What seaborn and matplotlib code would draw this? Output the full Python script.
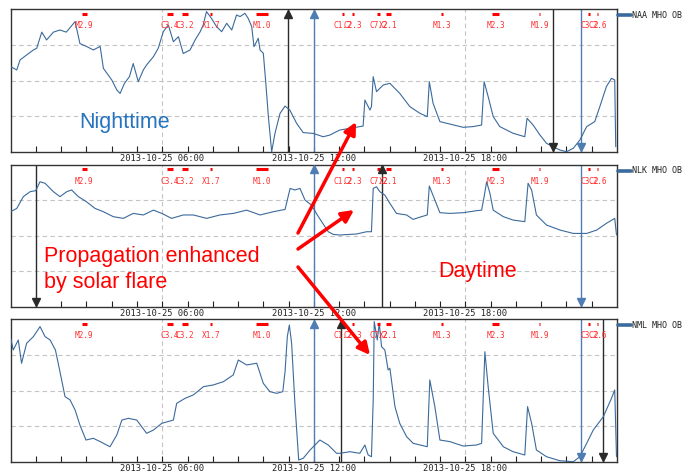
import numpy as np
import pandas as pd
import matplotlib
matplotlib.use("Agg")
import matplotlib.pyplot as plt
import matplotlib.transforms as mtransforms
from matplotlib.patches import FancyArrowPatch
from matplotlib.lines import Line2D
import seaborn as sns

# ---------------- data (hours of 2013-10-25 UT, relative amplitude 0-100) ----------------
naa_hours = [0, 0.24, 0.37, 0.63, 0.9, 1.03, 1.23, 1.42, 1.69, 1.95, 2.2, 2.55, 2.74, 3.0, 3.27, 3.54, 3.67,
             4.0, 4.2, 4.33, 4.5, 4.7, 4.85, 5.05, 5.25, 5.38, 5.65, 5.84, 6.04, 6.24, 6.44, 6.64, 6.83, 7.1,
             7.3, 7.5, 7.62, 7.75, 7.9, 8.15, 8.35, 8.55, 8.75, 8.94, 9.08, 9.27, 9.4, 9.54, 9.63, 9.8, 9.87,
             10.0, 10.1, 10.2, 10.33, 10.46, 10.66, 10.86, 11.05, 11.32, 11.58, 11.98, 12.37, 12.64, 12.9,
             13.03, 13.56, 13.95, 14.02, 14.22, 14.28, 14.35, 14.48, 14.75, 15.01, 15.4, 15.8, 16.2, 16.49,
             16.57, 16.72, 16.99, 17.38, 17.91, 18.3, 18.64, 18.74, 18.9, 19.1, 19.36, 19.89, 20.35, 20.44,
             20.68, 20.95, 21.21, 21.47, 21.74, 22.0, 22.27, 22.53, 22.8, 23.12, 23.32, 23.58, 23.78, 23.91,
             23.95]
naa_values = [59.8, 57.5, 64.5, 68, 71.5, 72.7, 84, 78.5, 84, 85.5, 84, 91.4, 76, 74, 71.5, 74, 58.6,
              50.5, 43.5, 41, 48, 52.8, 62, 49.3, 57.5, 61, 66.8, 72.7, 84.3, 89, 77.3, 80.8, 69, 71.5,
              78.5, 84.3, 89, 98.4, 94.9, 87.9, 84.3, 90.2, 85.5, 96, 94.9, 97.2, 93.7, 87.9, 73.8, 79.7, 71.5,
              69.2, 48, 24.8, 0.2, 13, 27, 32.2, 29.4, 20, 13.6, 13, 10.7, 11.9, 14.3,
              15.4, 17, 18.2, 36.4, 29.4, 31.8, 52.8, 42.3, 47, 48.1, 41.1, 31.8, 27.1, 24.8,
              49.3, 34.1, 21.3, 19.6, 17.3, 17.8, 18.9, 49.3, 38.8, 24.8, 17.8, 13.1, 10.7, 23.6,
              18.9, 11.9, 6.1, 3.7, 1.4, 0.2, 2.6, 8.4, 17.8, 21.3, 31.8, 45.8, 51.6, 50.5,
              3.7]

nlk_hours = [0, 0.24, 0.5, 0.77, 0.99, 1.16, 1.36, 1.69, 1.95, 2.22, 2.41, 2.68, 3.0, 3.34, 3.67, 4.06,
             4.46, 4.85, 5.25, 5.65, 5.98, 6.37, 6.83, 7.23, 7.76, 8.28, 8.81, 9.34, 9.87, 10.4, 10.86,
             11.06, 11.25, 11.45, 11.65, 11.9, 12.18, 12.57, 12.77, 13.03, 13.69, 14.09, 14.28, 14.35,
             14.48, 14.61, 14.81, 15.01, 15.27, 15.67, 15.93, 16.26, 16.49, 16.57, 16.79, 16.99, 17.38,
             17.91, 18.44, 18.64, 18.74, 18.84, 18.97, 19.1, 19.5, 19.89, 20.35, 20.48, 20.62, 20.81,
             21.21, 21.74, 22.27, 22.8, 23.2, 23.58, 23.91, 23.98]
nlk_values = [66.9, 69.2, 77.5, 81, 81.7, 88, 86.9, 81, 77.5, 81, 82.2, 77.5, 73.9, 69.2, 66.9, 63.4,
              62.2, 65.7, 64.6, 68, 65.7, 62.2, 64.6, 64.6, 62.2, 64.6, 65.7, 68, 64.6, 66.9, 68.5,
              83.3, 82.2, 83.3, 75.1, 71.6, 63.4, 52.8, 50.9, 50.5, 51.2, 52.8, 52.8, 83.3,
              84.5, 81, 78.6, 72.8, 65.7, 64.6, 61.5, 63.4, 64.6, 85, 75.1, 66.2, 65.7,
              66.2, 67.6, 68, 77.5, 88, 79.8, 68, 63.4, 61, 59.9, 86.9, 82.2, 64.6,
              57.5, 54, 51.6, 51.6, 54, 58.7, 62.2, 50.5]

nml_hours = [0, 0.1, 0.3, 0.43, 0.63, 0.9, 1.16, 1.36, 1.56, 1.77, 1.95, 2.15, 2.35, 2.55, 2.74, 2.98,
             3.27, 3.54, 3.93, 4.2, 4.4, 4.66, 4.99, 5.38, 5.65, 5.98, 6.44, 6.57, 6.9, 7.23, 7.63, 8.02,
             8.42, 8.81, 9.01, 9.34, 9.74, 10.0, 10.26, 10.53, 10.77, 10.86, 10.95, 11.03, 11.12, 11.25,
             11.4, 11.58, 11.85, 12.24, 12.57, 12.9, 13.03, 13.43, 13.82, 14.02, 14.15, 14.28, 14.35,
             14.39, 14.51, 14.59, 14.68, 14.81, 14.94, 15.01, 15.21, 15.4, 15.67, 15.93, 16.49, 16.59,
             16.79, 16.99, 17.38, 17.91, 18.44, 18.64, 18.77, 18.9, 19.1, 19.5, 19.89, 20.35, 20.46,
             20.62, 20.81, 21.21, 21.74, 22.27, 22.53, 22.8, 23.06, 23.46, 23.78, 23.91, 23.98]
nml_values = [86.7, 78.5, 85.5, 69.2, 83.2, 87.9, 94.9, 87.9, 85.5, 78.5, 63.3, 45.8, 43.5, 36.4, 25.9, 15.4,
              16.6, 14.3, 10.7, 18.9, 29.4, 30.6, 29.4, 20.1, 22.4, 27.1, 29.4, 41.1, 44.6, 47, 52.8, 54,
              56.3, 61, 71.5, 68, 69.2, 55.1, 49.3, 48.1, 49.3, 63.3, 87.9, 96, 83.2, 41.1,
              1.4, 2.6, 8.4, 15.4, 11.9, 6.1, 6.1, 7.2, 6.1, 11.9, 4.9, 3.7, 43.5,
              98.4, 85.5, 97.2, 80.8, 78.5, 64.5, 65.7, 38.8, 27.1, 17.8, 13.1, 10.7, 57.5,
              38.8, 15.4, 14.3, 11.2, 11.9, 13.1, 77.3, 52.8, 20.1, 10.7, 7.2, 4.9, 38.8,
              27.1, 8.4, 3.7, 0.9, 0.2, 3.7, 13.1, 22.4, 31.8, 44.6, 50.5, 3.7]

station_names = ["NAA MHO OB", "NLK MHO OB", "NML MHO OB"]

flare_labels = ["M2.9", "C3.4", "C3.2", "X1.7", "M1.0", "C1.2", "C2.3", "C7.2", "X2.1",
                "M1.3", "M2.3", "M1.9", "C3.2", "C2.6"]
flare_start = [2.81, 6.17, 6.8, 7.89, 9.7, 13.1, 13.5, 14.5, 14.84, 17.04, 19.06, 20.9, 22.86, 23.19]
flare_end = [3.01, 6.43, 7.0, 7.98, 10.2, 13.2, 13.6, 14.6, 15.05, 17.12, 19.33, 20.97, 22.95, 23.25]

# terminator times (hours): transmitter (dark) and receiver (blue); sunrise ^ / sunset v
tx_times = [[10.96, 21.45], [0.99, 14.7], [13.08, 23.45]]
tx_kind = [["rise", "set"], ["set", "rise"], ["rise", "set"]]
rx_times = [[12.0, 22.56], [12.0, 22.56], [12.0, 22.56]]
rx_kind = [["rise", "set"], ["rise", "set"], ["rise", "set"]]

tick_hours = list(range(1, 24))
label_hours = [6, 12, 18]
grid_levels = [25, 50, 75]

series = [(naa_hours, naa_values), (nlk_hours, nlk_values), (nml_hours, nml_values)]

# ---------------- style ----------------
sns.set_style("white")
plt.rcParams["font.family"] = ["DejaVu Sans"]

LINE = "#3b6a9c"
W, H = 685, 475
fig = plt.figure(figsize=(W / 100, H / 100), dpi=100)

# axes boxes in pixels: (left, top, right, bottom)
boxes = [(10.7, 9.3, 617, 152), (10.7, 164.7, 617, 306.7), (10.7, 319.3, 617, 462)]

for i, (hrs, vals) in enumerate(series):
    l, t, r, b = boxes[i]
    ax = fig.add_axes([l / W, 1 - b / H, (r - l) / W, (b - t) / H])
    df = pd.DataFrame({"hour": hrs, "value": vals})
    sns.lineplot(data=df, x="hour", y="value", ax=ax, color=LINE, linewidth=0.8,
                 estimator=None, sort=False, legend=False, zorder=3)
    ax.set_xlim(0, 24)
    ax.set_ylim(0, 100)
    ax.set_xlabel("")
    ax.set_ylabel("")
    for g in grid_levels:
        ax.axhline(g, color="#c4c4c4", lw=0.8, ls=(0, (4, 3)), zorder=0)
    for h in label_hours:
        ax.axvline(h, color="#c4c4c4", lw=0.8, ls=(0, (4, 3)), zorder=0)
    ax.set_xticks(tick_hours)
    ax.set_xticklabels(["2013-10-25 %02d:00" % h if h in label_hours else "" for h in tick_hours],
                       family="DejaVu Sans Mono")
    ax.tick_params(axis="x", direction="in", length=4, width=0.8, pad=1.5, labelsize=6.3,
                   colors="#222222", bottom=True)
    ax.set_yticks([])
    for s in ax.spines.values():
        s.set_color("#333333")
        s.set_linewidth(1.0)

    trans = mtransforms.blended_transform_factory(ax.transData, ax.transAxes)
    for lab, s0, e0 in zip(flare_labels, flare_start, flare_end):
        ax.plot([s0, e0], [0.967, 0.967], transform=trans, color="#ff0000", lw=2.2,
                solid_capstyle="butt", zorder=4)
        ax.text((s0 + e0) / 2, 0.885, lab, transform=trans, ha="center", va="center",
                fontsize=5.6, family="DejaVu Sans Mono", color="#ff3030", zorder=4)

    for times, kinds, col in [(tx_times[i], tx_kind[i], "#2a2a2a"), (rx_times[i], rx_kind[i], "#4d7db3")]:
        for tt, kk in zip(times, kinds):
            ax.axvline(tt, color=col, lw=1.0, zorder=2)
            if kk == "rise":
                ax.plot([tt], [0.967], marker="^", ms=5.5, color=col, transform=trans,
                        clip_on=False, zorder=5)
            else:
                ax.plot([tt], [0.035], marker="v", ms=5.5, color=col, transform=trans,
                        clip_on=False, zorder=5)

    # legend outside on the right
    ly = t + 5.8
    fig.add_artist(Line2D([618.3 / W, 630.5 / W], [1 - ly / H, 1 - ly / H],
                          transform=fig.transFigure, color=LINE, lw=2.6))
    fig.text(632 / W, 1 - ly / H, station_names[i], fontsize=6.0, family="DejaVu Sans Mono",
             color="#222222", va="center", ha="left")

# ---------------- annotations ----------------
fig.text(79 / W, 1 - 128.3 / H, "Nighttime", fontsize=15.5, color="#2673c0",
         family="Liberation Sans", va="baseline", ha="left")
fig.text(44.3 / W, 1 - 261.7 / H, "Propagation enhanced", fontsize=15.5, color="#ff0000",
         family="Liberation Sans", va="baseline", ha="left")
fig.text(44.3 / W, 1 - 287.7 / H, "by solar flare", fontsize=15.5, color="#ff0000",
         family="Liberation Sans", va="baseline", ha="left")
fig.text(438.3 / W, 1 - 276.7 / H, "Daytime", fontsize=15.5, color="#ff0000",
         family="Liberation Sans", va="baseline", ha="left")

arrows = [((298, 233), (356, 122)), ((298, 249), (354, 210)), ((298, 267), (370, 355))]
for (x0, y0), (x1, y1) in arrows:
    fig.add_artist(FancyArrowPatch((x0 / W, 1 - y0 / H), (x1 / W, 1 - y1 / H),
                                   transform=fig.transFigure,
                                   arrowstyle="-|>,head_length=0.6,head_width=0.3",
                                   mutation_scale=12, lw=2.5, color="#ff0000",
                                   shrinkA=0, shrinkB=0, zorder=10))

fig.savefig("out.png", dpi=100)
